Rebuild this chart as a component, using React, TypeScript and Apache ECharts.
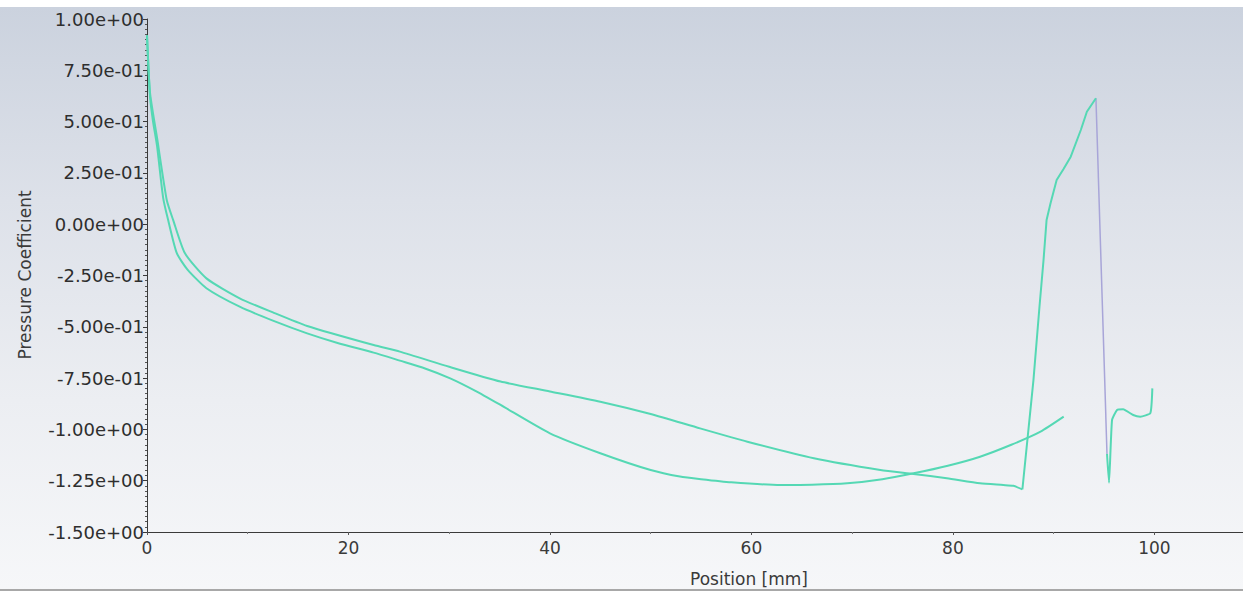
import React, { useEffect, useRef } from "react";
import * as echarts from "echarts";

const xTicks = [0, 20, 40, 60, 80, 100];
const yTickLabels = ["1.00e+00", "7.50e-01", "5.00e-01", "2.50e-01", "0.00e+00", "-2.50e-01", "-5.00e-01", "-7.50e-01", "-1.00e+00", "-1.25e+00", "-1.50e+00"];

// Lower branch (dips to about -1.27 near 63 mm, ends at 91 mm)
const lowerX = [0, 0.15, 0.3, 0.6, 1.0, 1.6, 2.1, 2.95, 4, 5.9, 9.2, 12.5, 15.9, 19, 22.5, 25.1, 27.6, 30.1, 32.6, 35.1, 40, 45, 50, 52.9, 55, 58, 62.9, 66, 69.5, 73, 76.1, 79.5, 82.7, 85.8, 88.7, 91];
const lowerY = [0.92, 0.76, 0.62, 0.5, 0.38, 0.13, 0.02, -0.14, -0.22, -0.312, -0.402, -0.47, -0.532, -0.58, -0.626, -0.665, -0.703, -0.751, -0.812, -0.881, -1.019, -1.116, -1.198, -1.23, -1.243, -1.258, -1.271, -1.27, -1.263, -1.243, -1.214, -1.177, -1.133, -1.075, -1.011, -0.938];

// Upper branch, smooth part up to the minimum before the spike
const upperX = [0, 0.3, 1.0, 1.96, 2.6, 3.77, 5.9, 9.2, 12.5, 15.9, 22.5, 25.1, 30, 35.1, 40, 45, 50, 54.9, 59.6, 66.2, 72.8, 76.1, 79.4, 82.7, 85, 86, 86.9];
const upperY = [0.92, 0.64, 0.42, 0.118, 0.02, -0.142, -0.264, -0.361, -0.43, -0.496, -0.589, -0.621, -0.695, -0.767, -0.815, -0.865, -0.925, -0.995, -1.06, -1.141, -1.198, -1.217, -1.238, -1.263, -1.271, -1.275, -1.292];

// Upper branch, the rise to the spike
const spikeX = [86.9, 88, 88.6, 89.0, 89.3, 89.7, 90.3, 91.0, 91.7, 92.7, 93.3, 94.2];
const spikeY = [-1.292, -0.759, -0.4, -0.174, 0.02, 0.103, 0.215, 0.27, 0.329, 0.459, 0.548, 0.614];

// Drop segment (purple)
const dropX = [94.2, 95.3];
const dropY = [0.614, -1.12];

// Trailing segment
const tailX = [95.3, 95.5, 95.8, 96.3, 96.9, 97.9, 98.6, 99.6, 99.8];
const tailY = [-1.12, -1.26, -0.954, -0.905, -0.902, -0.93, -0.938, -0.921, -0.8];

const zip = (xs: number[], ys: number[]) => xs.map((x, i) => [x, ys[i]]);

const TEAL = "#55d8b4";
const PURPLE = "#a8a5d8";
const FONT = "DejaVu Sans";

function fmtExp(v: number): string {
  const idx = Math.round((1 - v) / 0.25);
  if (idx >= 0 && idx < yTickLabels.length && Math.abs(1 - idx * 0.25 - v) < 1e-6) return yTickLabels[idx];
  return "";
}

export default function App() {
  const ref = useRef<HTMLDivElement>(null);
  useEffect(() => {
    if (!ref.current) return;
    const chart = echarts.init(ref.current, null, { renderer: "svg" });
    const lineBase = { type: "line", showSymbol: false, symbol: "none", z: 3 };
    chart.setOption({
      animation: false,
      backgroundColor: "transparent",
      grid: { left: 147, top: 19, right: 0, bottom: 62, containLabel: false },
      xAxis: {
        type: "value",
        min: 0,
        max: 108.8,
        interval: 20,
        splitLine: { show: false },
        axisLine: { show: true, onZero: false, lineStyle: { color: "#3a3a3a", width: 1 } },
        axisTick: { show: true, length: 3, inside: false, lineStyle: { color: "#555" } },
        minorTick: { show: true, splitNumber: 2, length: 2, lineStyle: { color: "#777" } },
        axisLabel: {
          show: true,
          showMaxLabel: false,
          color: "#3a3a3a",
          fontFamily: FONT,
          fontSize: 17,
          margin: 7,
          formatter: (v: number) => (xTicks.includes(v) ? String(v) : ""),
        },
      },
      yAxis: {
        type: "value",
        min: -1.5,
        max: 1,
        interval: 0.25,
        splitLine: { show: false },
        axisLine: { show: true, onZero: false, lineStyle: { color: "#3a3a3a", width: 1 } },
        axisTick: { show: true, length: 4, lineStyle: { color: "#3a3a3a" } },
        minorTick: { show: true, splitNumber: 10, length: 2, lineStyle: { color: "#555" } },
        axisLabel: {
          color: "#2e2e2e",
          fontFamily: FONT,
          fontSize: 18,
          margin: 3,
          formatter: (v: number) => fmtExp(v),
        },
      },
      graphic: [
        {
          type: "text",
          x: 749,
          y: 579,
          style: { text: "Position [mm]", fill: "#3a3a3a", font: `17px '${FONT}'`, textAlign: "center", textVerticalAlign: "middle" },
        },
        {
          type: "text",
          x: 25,
          y: 275,
          rotation: Math.PI / 2,
          style: { text: "Pressure Coefficient", fill: "#3a3a3a", font: `17px '${FONT}'`, textAlign: "center", textVerticalAlign: "middle" },
        },
      ],
      series: [
        { ...lineBase, data: zip(lowerX, lowerY), smooth: 0.2, lineStyle: { color: TEAL, width: 2 } },
        { ...lineBase, data: zip(upperX, upperY), smooth: 0.2, lineStyle: { color: TEAL, width: 2 } },
        { ...lineBase, data: zip(spikeX, spikeY), smooth: false, lineStyle: { color: TEAL, width: 2 } },
        { ...lineBase, data: zip(dropX, dropY), smooth: false, z: 2, lineStyle: { color: PURPLE, width: 1.5 } },
        { ...lineBase, data: zip(tailX, tailY), smooth: 0.15, lineStyle: { color: TEAL, width: 2 } },
      ],
    });
    return () => chart.dispose();
  }, []);
  return (
    <div
      ref={ref}
      style={{
        position: "absolute",
        left: 0,
        top: 0,
        width: 1243,
        height: 594,
        background:
          "linear-gradient(to bottom, #ffffff 0px, #ffffff 7px, #cbd2de 7px, #dde1e9 200px, #eceef2 400px, #f6f7f9 589px, #a8a8a8 589px, #a8a8a8 591px, #ffffff 591px)",
      }}
    />
  );
}
